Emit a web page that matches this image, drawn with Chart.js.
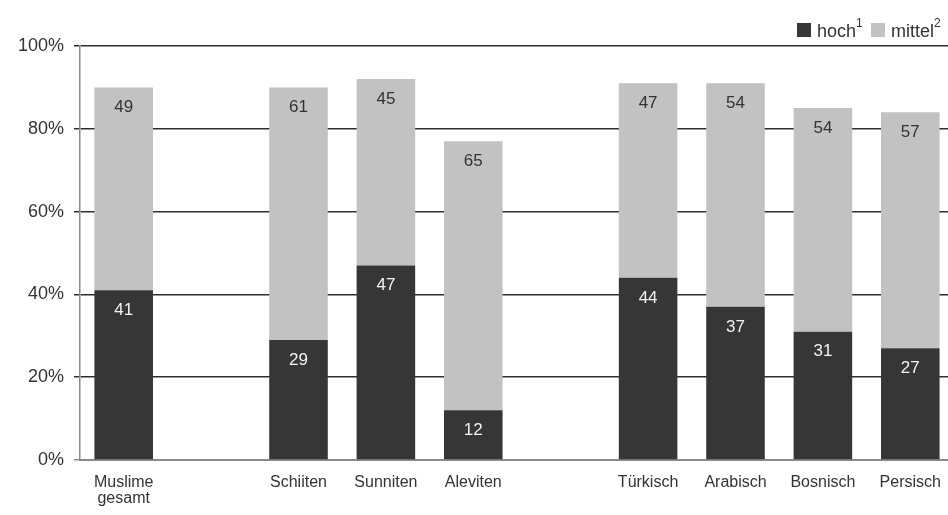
<!DOCTYPE html>
<html>
<head>
<meta charset="utf-8">
<script src="https://cdn.jsdelivr.net/npm/chart.js@4.4.1/dist/chart.umd.min.js"></script>
<style>
  html, body { margin: 0; padding: 0; background: #fff; overflow: hidden; }
  #wrap { width: 960px; height: 515px; position: relative; }
</style>
</head>
<body>
<div id="wrap"><canvas id="chart"></canvas></div>
<script>
// categories (empty strings are the gaps between groups)
const categories = [
  ["Muslime", "gesamt"], "", "Schiiten", "Sunniten", "Aleviten", "",
  "Türkisch", "Arabisch", "Bosnisch", "Persisch"
];
const hoch = [41, null, 29, 47, 12, null, 44, 37, 31, 27];
const mittel = [49, null, 61, 45, 65, null, 47, 54, 54, 57];
const yTicks = [0, 20, 40, 60, 80, 100];

const darkGrey = "#363636";
const lightGrey = "#c2c2c2";
const fontFamily = "'Liberation Sans', Arial, sans-serif";

// value labels near the top of each segment
const valueLabels = {
  id: "valueLabels",
  afterDatasetsDraw(chart) {
    const ctx = chart.ctx;
    ctx.save();
    ctx.font = "17px " + fontFamily;
    ctx.textAlign = "center";
    ctx.textBaseline = "middle";
    chart.data.datasets.forEach((ds, i) => {
      const meta = chart.getDatasetMeta(i);
      meta.data.forEach((bar, j) => {
        const v = ds.data[j];
        if (v == null) return;
        ctx.fillStyle = i === 0 ? "#f2f2f2" : "#333";
        ctx.fillText(String(v), bar.x, bar.y + 20);
      });
    });
    ctx.restore();
  }
};

// legend at the top right, with superscript footnote marks
const topLegend = {
  id: "topLegend",
  afterDraw(chart) {
    const ctx = chart.ctx;
    const items = [
      { x: 797, text: "hoch", sup: "1", color: darkGrey },
      { x: 871, text: "mittel", sup: "2", color: lightGrey }
    ];
    ctx.save();
    ctx.textBaseline = "alphabetic";
    items.forEach((it) => {
      ctx.fillStyle = it.color;
      ctx.fillRect(it.x, 23, 14, 14);
      ctx.fillStyle = "#333";
      ctx.font = "18px " + fontFamily;
      ctx.fillText(it.text, it.x + 20, 37);
      const w = ctx.measureText(it.text).width;
      ctx.font = "12px " + fontFamily;
      ctx.fillText(it.sup, it.x + 20 + w, 27);
    });
    ctx.restore();
  }
};

new Chart(document.getElementById("chart"), {
  type: "bar",
  data: {
    labels: categories,
    datasets: [
      { label: "hoch", data: hoch, backgroundColor: darkGrey },
      { label: "mittel", data: mittel, backgroundColor: lightGrey }
    ]
  },
  options: {
    responsive: true,
    maintainAspectRatio: false,
    animation: false,
    layout: { padding: { top: 46, right: 6, left: 0, bottom: 0 } },
    datasets: { bar: { barPercentage: 0.67, categoryPercentage: 1.0 } },
    plugins: {
      legend: { display: false },
      tooltip: { enabled: false }
    },
    scales: {
      x: {
        stacked: true,
        grid: { display: false, drawTicks: false },
        border: { display: true, color: "#8a8a8a", width: 2 },
        ticks: {
          color: "#333",
          font: { family: fontFamily, size: 16, lineHeight: 1.0 },
          padding: 15,
          maxRotation: 0,
          autoSkip: false
        },
        afterFit: (scale) => { scale.height = 55; }
      },
      y: {
        stacked: true,
        min: 0,
        max: 100,
        afterBuildTicks: (scale) => {
          scale.ticks = yTicks.map((v) => ({ value: v }));
        },
        grid: {
          color: (c) => (c.tick && c.tick.value === 0 ? "#8a8a8a" : "#2e2e2e"),
          lineWidth: 1.5,
          drawTicks: true,
          tickLength: 6
        },
        border: { display: true, color: "#8a8a8a", width: 1.5 },
        ticks: {
          color: "#333",
          font: { family: fontFamily, size: 18 },
          padding: 10,
          callback: (v) => v + "%"
        },
        afterFit: (scale) => { scale.width = 80; }
      }
    }
  },
  plugins: [valueLabels, topLegend]
});
</script>
</body>
</html>
